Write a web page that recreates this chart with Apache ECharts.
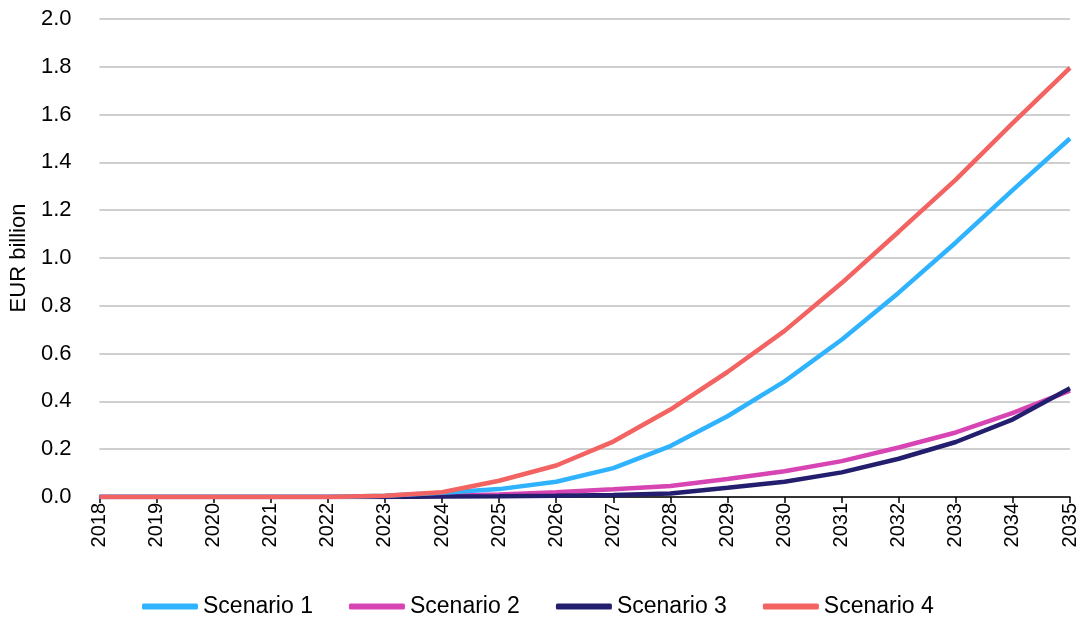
<!DOCTYPE html>
<html>
<head>
<meta charset="utf-8">
<script src="https://cdn.jsdelivr.net/npm/echarts@6/dist/echarts.min.js"></script>
<style>
  html, body { margin: 0; padding: 0; background: #fff; }
  #chart { width: 1086px; height: 619px; }
</style>
</head>
<body>
<div id="chart"></div>
<script>
// Years on the category axis
const years = ['2018','2019','2020','2021','2022','2023','2024','2025','2026','2027','2028','2029','2030','2031','2032','2033','2034','2035'];

// Series values, EUR billion
const scenario1 = [0, 0, 0, 0, 0, 0.005, 0.018, 0.033, 0.064, 0.121, 0.213, 0.338, 0.484, 0.658, 0.855, 1.065, 1.285, 1.50];
const scenario2 = [0, 0, 0, 0, 0, 0.002, 0.005, 0.010, 0.020, 0.032, 0.046, 0.075, 0.108, 0.150, 0.207, 0.270, 0.352, 0.445];
const scenario3 = [0, 0, 0, 0, 0, 0, 0.002, 0.003, 0.005, 0.008, 0.015, 0.039, 0.064, 0.103, 0.160, 0.230, 0.325, 0.455];
const scenario4 = [0, 0, 0, 0, 0, 0.005, 0.020, 0.068, 0.132, 0.232, 0.366, 0.523, 0.695, 0.895, 1.110, 1.328, 1.565, 1.795];

const seriesNames = ['Scenario 1', 'Scenario 2', 'Scenario 3', 'Scenario 4'];
const seriesColors = ['#30b3ff', '#d744b3', '#231f6e', '#f26361'];
const seriesData = [scenario1, scenario2, scenario3, scenario4];
// Drawing order: red on top, then blue, navy, pink
const seriesZ = [4, 2, 3, 5];

const chart = echarts.init(document.getElementById('chart'), null, { renderer: 'canvas' });

const font = 'Liberation Sans, Arial, sans-serif';

chart.setOption({
  animation: false,
  backgroundColor: '#ffffff',
  grid: { left: 98, right: 16, top: 19, bottom: 122 },
  legend: {
    top: 590,
    left: 137,
    itemWidth: 56,
    itemHeight: 6,
    itemGap: 36,
    icon: 'roundRect',
    textStyle: { fontFamily: font, fontSize: 23, color: '#000', padding: [0, 0, 0, 0] },
    data: seriesNames
  },
  xAxis: {
    type: 'category',
    data: years,
    boundaryGap: false,
    axisLine: { lineStyle: { color: '#000', width: 1.5 } },
    axisTick: { show: true, length: 6, lineStyle: { color: '#000', width: 1.5 }, alignWithLabel: true },
    axisLabel: { rotate: 90, color: '#000', fontFamily: font, fontSize: 20, margin: 6, interval: 0 }
  },
  yAxis: {
    type: 'value',
    min: 0,
    max: 2.0,
    interval: 0.2,
    name: 'EUR billion',
    nameLocation: 'middle',
    nameGap: 64,
    nameRotate: 90,
    nameTextStyle: { fontFamily: font, fontSize: 22, color: '#000' },
    axisLine: { show: false },
    axisTick: { show: false },
    axisLabel: { color: '#000', fontFamily: font, fontSize: 22, margin: 28, formatter: v => v.toFixed(1) },
    splitLine: { lineStyle: { color: '#bfbfbf', width: 1.5 } }
  },
  series: seriesData.map((d, i) => ({
    name: seriesNames[i],
    type: 'line',
    data: d,
    symbol: 'none',
    smooth: false,
    color: seriesColors[i],
    lineStyle: { width: 4.5, color: seriesColors[i] },
    z: seriesZ[i]
  }))
});
</script>
</body>
</html>
